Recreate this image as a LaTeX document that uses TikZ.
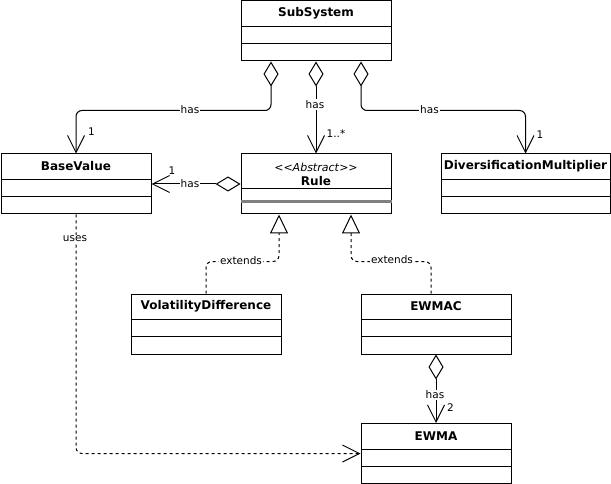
\documentclass[tikz,border=0pt]{standalone}
\usepackage{fontspec}
\setmainfont{DejaVu Sans}
\usetikzlibrary{arrows.meta}
\begin{document}
\begin{tikzpicture}[x=1pt,y=-1pt,line width=1pt,
  box/.style={draw,line width=1pt,minimum width=150pt,minimum height=60pt,inner sep=0pt,anchor=north west},
  ttl/.style={font=\bfseries\fontsize{12}{14}\selectfont,inner sep=0pt},
  lbl/.style={font=\fontsize{10.5}{12}\selectfont,fill=white,inner sep=1pt},
  mult/.style={font=\fontsize{10.5}{12}\selectfont,inner sep=0pt},
  agg/.style={{Diamond[open,length=25pt,width=15pt]}-{Straight Barb[length=17pt,width=17pt]},rounded corners=6pt},
  ext/.style={dash pattern=on 3pt off 3pt,-{Triangle[open,length=19pt,width=18pt]},rounded corners=6pt},
  use/.style={dash pattern=on 3pt off 3pt,-{Straight Barb[length=17pt,width=17pt]},rounded corners=6pt}]
\useasboundingbox (0,0) rectangle (611,484);
% classes
\node[box] (sub) at (240.5,0.5) {};
\node[box] (base) at (0.5,153.5) {};
\node[box] (rule) at (240.5,153.5) {};
\node[box,minimum width=169pt] (dm) at (440.5,153.5) {};
\node[box] (vd) at (130.5,293.5) {};
\node[box] (ewmac) at (360.5,293.5) {};
\node[box] (ewma) at (360.5,423) {};
\foreach \n in {sub,base,dm,vd,ewmac,ewma}{
  \draw ([yshift=-26pt]\n.north west) -- ([yshift=-26pt]\n.north east);
  \draw ([yshift=-43pt]\n.north west) -- ([yshift=-43pt]\n.north east);
}
\draw ([yshift=-35pt]rule.north west) -- ([yshift=-35pt]rule.north east);
\draw[gray,line width=2.5pt] ([yshift=-48pt]rule.north west) -- ([yshift=-48pt]rule.north east);
% titles
\node[ttl] (subT) at ([yshift=-13pt]sub.north) {SubSystem};
\node[ttl] (baseT) at ([yshift=-13pt]base.north) {BaseValue};
\node[ttl] (dmT) at ([yshift=-13pt]dm.north) {DiversificationMultiplier};
\node[ttl] (vdT) at ([yshift=-13pt]vd.north) {VolatilityDifference};
\node[ttl] (ewmacT) at ([yshift=-13pt]ewmac.north) {EWMAC};
\node[ttl] (ewmaT) at ([yshift=-13pt]ewma.north) {EWMA};
\node[inner sep=0pt,font=\fontsize{11}{13}\selectfont] (ruleS) at ([yshift=-13.5pt]rule.north) {<{}<\textit{Abstract}>{}>};
\node[ttl] (ruleT) at ([yshift=-27.5pt]rule.north) {Rule};
% aggregations
\draw[agg] ([xshift=-45pt]sub.south) |- ([yshift=43pt]base.north) -- (base.north);
\draw[agg] (sub.south) -- (rule.north);
\draw[agg] ([xshift=45pt]sub.south) |- ([yshift=43pt]dm.north) -- (dm.north);
\draw[agg] (rule.west) -- (base.east);
\draw[agg] (ewmac.south) -- (ewma.north);
% extends
\draw[ext] (vd.north) |- ([xshift=-37pt,yshift=-47pt]rule.south) -- ([xshift=-37pt]rule.south);
\draw[ext] ([xshift=-5pt]ewmac.north) |- ([xshift=35pt,yshift=-47pt]rule.south) -- ([xshift=35pt]rule.south);
% uses
\draw[use] (base.south) |- (ewma.west);
% labels
\node[lbl] (l1) at (190,110) {has};
\node[lbl] (l2) at (315,104.5) {has};
\node[lbl] (l3) at (429.5,110) {has};
\node[lbl] (l4) at (190,183.5) {has};
\node[lbl] (l5) at (241,261) {extends};
\node[lbl] (l6) at (392,259.5) {extends};
\node[lbl] (l7) at (75,239) {uses};
\node[lbl] (l8) at (435,395) {has};
\node[mult] (m1) at (91.5,132) {1};
\node[mult] (m2) at (336,134) {1..*};
\node[mult] (m3) at (540,134.5) {1};
\node[mult] (m4) at (172,171) {1};
\node[mult] (m5) at (450.5,408) {2};
\end{tikzpicture}
\end{document}
